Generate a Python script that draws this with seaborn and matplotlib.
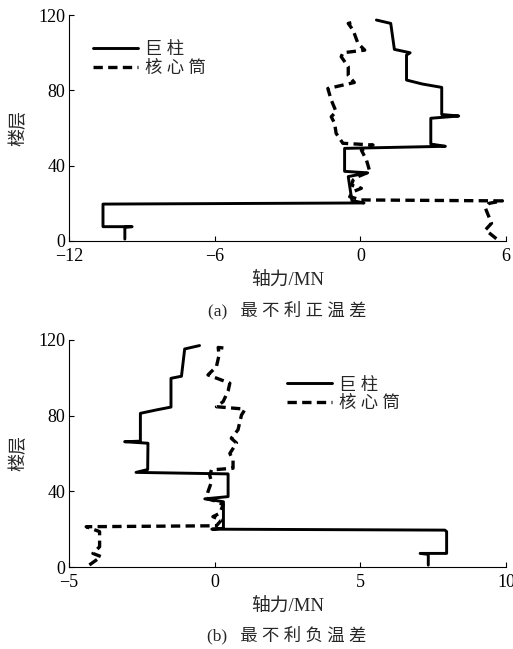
import matplotlib
matplotlib.use("Agg")
import matplotlib.pyplot as plt
import seaborn as sns

# (a) 最不利正温差 -- axial force (MN) vs floor
a_column_force = [-9.7, -9.7, -9.4, -10.6, -10.6, 0.15, -0.35, -0.5, 0.3, -0.65, -0.65,
                  3.5, 2.9, 2.9, 4.05, 3.35, 3.35, 2.55, 1.9, 1.9, 2.05, 1.4, 1.25, 0.66]
a_column_floor = [1, 7.3, 7.6, 7.6, 19.6, 20.2, 21.5, 34.2, 36.2, 37, 49.2,
                  50.3, 51.5, 65.2, 66.4, 67.2, 81.6, 83.4, 85.5, 98.8, 100, 101.8, 115.6, 117.4]
a_core_force = [5.6, 5.15, 5.4, 5.15, 5.3, 5.85, 0.04, -0.44, -0.3, 0.04, -0.37, -0.3, -0.1,
                0.39, 0.25, 0.04, 0.52, -0.72, -1.0, -1.06, -1.2, -1.0, -1.2, -1.34, -0.25,
                -0.5, -0.5, -0.79, -0.72, 0.18, -0.1, -0.3, -0.5, -0.23]
a_core_floor = [1.2, 5.9, 9.4, 17.4, 20, 21.3, 21.8, 23.5, 26.2, 28, 29.7, 32.4, 34.2,
                36.8, 43, 48.3, 51, 51.9, 57.2, 62.5, 66, 68.7, 74.9, 81, 84.2,
                88, 92.6, 97.9, 100, 101.4, 105, 112, 115.6, 116.4]

# (b) 最不利负温差
b_column_force = [7.33, 7.33, 7.05, 7.96, 7.96, 7.9, -0.1, 0.3, 0.3, -0.34, 0.46, 0.46,
                  -2.7, -2.3, -2.29, -3.09, -2.55, -2.55, -2.0, -1.5, -1.5, -1.14, -1.03, -0.52]
b_column_floor = [1, 6.7, 7.2, 7.2, 18.7, 19.5, 20, 20.5, 34.5, 36, 37.2, 49.2,
                  50, 51.5, 65.4, 66.2, 66.5, 81.2, 83, 84.5, 99.7, 100.8, 115.2, 117]
b_core_force = [-4.3, -3.9, -4.18, -3.95, -3.95, -4.41, 0.06, 0.23, -0.06, 0.17, 0.29, 0.11,
                -0.29, -0.23, -0.11, -0.17, -0.11, 0.63, 0.63, 0.52, 0.75, 0.57, 0.8, 0.92,
                1.03, 0.97, 0.06, 0.29, 0.46, 0.52, -0.23, 0.06, 0.15, 0.12, 0.45]
b_core_floor = [1.1, 5.5, 7.2, 10.7, 18.7, 21.3, 21.8, 24.8, 26.6, 28.4, 32.8, 34.5,
                36.3, 39.8, 45, 48.5, 51.3, 52.2, 56.5, 60, 65.5, 68, 72.5, 80.3,
                83, 83.5, 84.7, 87.4, 93, 97.1, 101.5, 105.9, 112, 116, 115.5]

labels = ["巨 柱", "核 心 筒"]
captions = ["(a)   最 不 利 正 温 差", "(b)   最 不 利 负 温 差"]
x_ticks = [[-12, -6, 0, 6], [-5, 0, 5, 10]]
y_ticks = [0, 40, 80, 120]

sns.set_style("ticks", {"xtick.direction": "in", "ytick.direction": "in"})
mixed = ["Liberation Serif", "Noto Sans CJK SC"]
plt.rcParams["font.family"] = mixed
plt.rcParams["axes.unicode_minus"] = True

fig = plt.figure(figsize=(5.13, 6.49), dpi=100)
ax_a = fig.add_axes([0.1345, 0.6287, 0.852, 0.348])
ax_b = fig.add_axes([0.1345, 0.1263, 0.852, 0.350])

panels = [
    (ax_a, a_column_force, a_column_floor, a_core_force, a_core_floor, (0.055, 0.88)),
    (ax_b, b_column_force, b_column_floor, b_core_force, b_core_floor, (0.499, 0.835)),
]

for i, (ax, cf, cy, kf, ky, leg_pos) in enumerate(panels):
    sns.lineplot(x=cf, y=cy, sort=False, estimator=None, color="black",
                 linewidth=2.1, ax=ax)
    sns.lineplot(x=kf, y=ky, sort=False, estimator=None, color="black",
                 linewidth=2.4, linestyle=(0, (2.8, 1.6)), ax=ax)
    ax.set_xlim(x_ticks[i][0], x_ticks[i][-1])
    ax.set_ylim(0, 120)
    ax.set_xticks(x_ticks[i])
    ax.set_yticks(y_ticks)
    sns.despine(ax=ax)
    for s in ["left", "bottom"]:
        ax.spines[s].set_linewidth(0.8)
        ax.spines[s].set_color("black")
    ax.tick_params(direction="in", length=3.5, width=0.8, labelsize=13,
                   colors="black")
    ax.tick_params(axis="x", pad=5)
    ax.tick_params(axis="y", pad=2.5)
    ax.set_xlabel("轴力/MN", fontsize=13.5)
    ax.set_ylabel("楼层", fontsize=13)
    ax.xaxis.set_label_coords(0.5, -0.135)
    ax.yaxis.set_label_coords(-0.095, 0.5)
    lines = ax.get_lines()
    ax.legend(handles=lines[:2], labels=labels, loc="upper left",
              bbox_to_anchor=leg_pos, frameon=False, borderpad=0,
              borderaxespad=0, handlelength=2.6, handletextpad=0.4,
              labelspacing=0.15, prop={"family": mixed, "size": 12.5})

fig.text(0.559, 0.522, captions[0], ha="center", va="center", fontsize=12.5)
fig.text(0.559, 0.022, captions[1], ha="center", va="center", fontsize=12.5)

fig.savefig("out.png", dpi=100, facecolor="white")
